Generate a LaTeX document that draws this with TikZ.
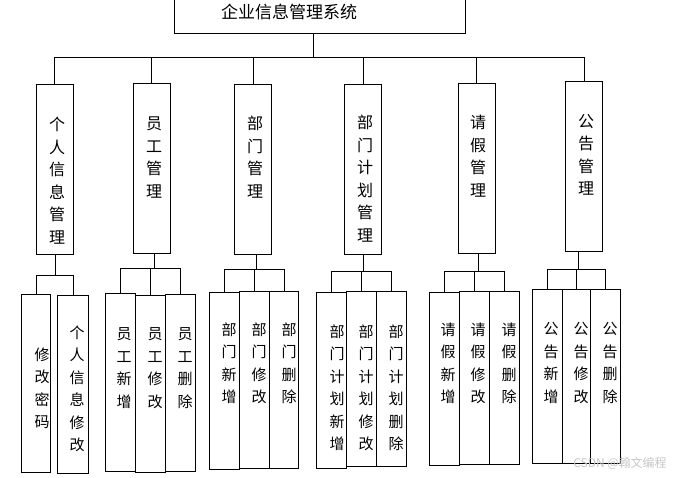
\documentclass[tikz,border=0pt]{standalone}
\usepackage{fontspec}
\setmainfont{Noto Sans CJK SC}
\usetikzlibrary{positioning}
\tikzset{
  frame/.style={draw, line width=0.9pt, inner sep=0pt},
  modbox/.style={frame, minimum width=37pt, minimum height=170pt, anchor=north},
  funbox/.style={frame, anchor=north west},
  modtxt/.style={inner sep=0pt, anchor=north, align=center, font=\fontsize{16}{22.5}\selectfont},
  funtxt/.style={inner sep=0pt, anchor=north, align=center, font=\fontsize{15}{22.5}\selectfont},
  link/.style={line width=0.9pt}
}

\begin{document}
\begin{tikzpicture}[x=1pt,y=-1pt]
\useasboundingbox (0,0) rectangle (676,477);

% system box (top edge runs off the page)
\node[frame, minimum width=291pt, minimum height=37pt, anchor=north west] (sys) at (174,-4) {};
\node[inner sep=0pt, font=\fontsize{17}{20}\selectfont] (systxt) at (289,12) {企业信息管理系统};

% modules
\node[modbox] (p1) at (54.5,84) {};
\node[modbox] (p2) at (151.5,83) {};
\node[modbox] (p3) at (253,84) {};
\node[modbox] (p4) at (363,84) {};
\node[modbox] (p5) at (476.5,83) {};
\node[modbox] (p6) at (584,81) {};

\node[modtxt] (p1t) at (57,117) {个\\人\\信\\息\\管\\理};
\node[modtxt] (p2t) at (154,117) {员\\工\\管\\理};
\node[modtxt] (p3t) at (255,116) {部\\门\\管\\理};
\node[modtxt] (p4t) at (365,115) {部\\门\\计\\划\\管\\理};
\node[modtxt] (p5t) at (478,115) {请\\假\\管\\理};
\node[modtxt] (p6t) at (586,114) {公\\告\\管\\理};

% bus under the system box
\coordinate (bus) at (313,57);
\draw[link] (sys.south -| bus) -- (bus);
\draw[link] (p1.north |- bus) -- (p6.north |- bus);
\foreach \i in {1,...,6}
  \draw[link] (p\i.north |- bus) -- (p\i.north);

% functions
\node[funbox, minimum width=29pt, minimum height=178pt] (q11) at (21,294) {};
\node[funbox, minimum width=31pt, minimum height=178pt] (q12) at (57,295) {};

\node[funbox, minimum width=30pt, minimum height=178pt] (q21) at (105,293) {};
\node[funbox, minimum width=30pt, minimum height=177pt] (q22) at (135,295) {};
\node[funbox, minimum width=30pt, minimum height=177pt] (q23) at (165,294) {};

\node[funbox, minimum width=30pt, minimum height=177pt] (q31) at (209,292) {};
\node[funbox, minimum width=30pt, minimum height=177pt] (q32) at (239,291) {};
\node[funbox, minimum width=29pt, minimum height=177pt] (q33) at (269,291) {};

\node[funbox, minimum width=30pt, minimum height=176pt] (q41) at (316,292) {};
\node[funbox, minimum width=30pt, minimum height=175pt] (q42) at (346,291) {};
\node[funbox, minimum width=30pt, minimum height=175pt] (q43) at (376,291) {};

\node[funbox, minimum width=30pt, minimum height=173pt] (q51) at (429,292) {};
\node[funbox, minimum width=30pt, minimum height=173pt] (q52) at (459,291) {};
\node[funbox, minimum width=30pt, minimum height=173pt] (q53) at (489,291) {};

\node[funbox, minimum width=30pt, minimum height=174pt] (q61) at (532,289) {};
\node[funbox, minimum width=28pt, minimum height=174pt] (q62) at (562,289) {};
\node[funbox, minimum width=30pt, minimum height=174pt] (q63) at (590,289) {};

\node[funtxt] (q11t) at (42,347.5) {修\\改\\密\\码};
\node[funtxt] (q12t) at (77,325.5) {个\\人\\信\\息\\修\\改};
\node[funtxt] (q21t) at (124,327.5) {员\\工\\新\\增};
\node[funtxt] (q22t) at (155,327.5) {员\\工\\修\\改};
\node[funtxt] (q23t) at (185,327.5) {员\\工\\删\\除};
\node[funtxt] (q31t) at (229,322.5) {部\\门\\新\\增};
\node[funtxt] (q32t) at (259,322.5) {部\\门\\修\\改};
\node[funtxt] (q33t) at (289,322.5) {部\\门\\删\\除};
\node[funtxt] (q41t) at (337,324.5) {部\\门\\计\\划\\新\\增};
\node[funtxt] (q42t) at (366,324.5) {部\\门\\计\\划\\修\\改};
\node[funtxt] (q43t) at (396,324.5) {部\\门\\计\\划\\删\\除};
\node[funtxt] (q51t) at (448,322.5) {请\\假\\新\\增};
\node[funtxt] (q52t) at (478,322.5) {请\\假\\修\\改};
\node[funtxt] (q53t) at (509,322.5) {请\\假\\删\\除};
\node[funtxt] (q61t) at (551,322.5) {公\\告\\新\\增};
\node[funtxt] (q62t) at (581,322.5) {公\\告\\修\\改};
\node[funtxt] (q63t) at (610,322.5) {公\\告\\删\\除};

% module -> function branches
\coordinate (h1) at (55,275);
\coordinate (h2) at (154,268);
\coordinate (h3) at (256,269);
\coordinate (h4) at (363,271);
\coordinate (h5) at (478,271);
\coordinate (h6) at (578,269);
\foreach \i/\last in {1/2,2/3,3/3,4/3,5/3,6/3} {
  \draw[link] (p\i.south -| h\i) -- (h\i);
  \draw[link] (q\i1.north |- h\i) -- (q\i\last.north |- h\i);
  \foreach \j in {1,...,\last}
    \draw[link] (q\i\j.north |- h\i) -- (q\i\j.north);
}

% watermark
\node[inner sep=0pt, text=gray!45, font=\fontsize{12}{14}\selectfont] (mark) at (620,463) {CSDN @翰文编程};
\end{tikzpicture}
\end{document}
